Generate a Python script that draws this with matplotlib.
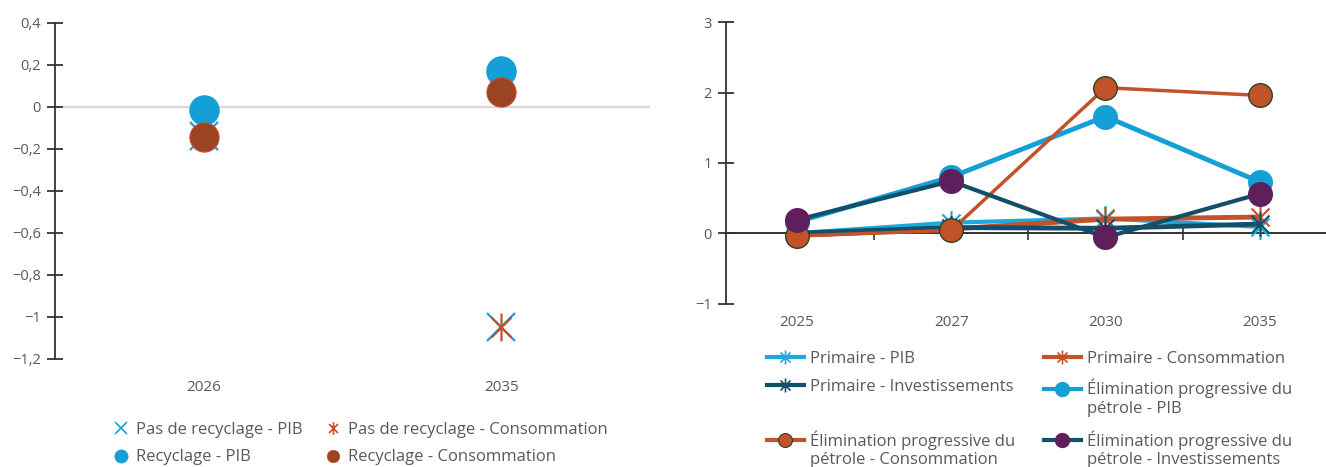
import matplotlib
matplotlib.use('Agg')
import matplotlib.pyplot as plt
from matplotlib.path import Path
from matplotlib.lines import Line2D
from matplotlib.ticker import FuncFormatter, FixedLocator

plt.rcParams['font.family'] = ['Open Sans', 'DejaVu Sans']

# ---------------- data ----------------
left_years = ['2026', '2035']
no_recyc_pib = [-0.14, -1.05]
no_recyc_cons = [-0.14, -1.05]
recyc_pib = [-0.015, 0.17]
recyc_cons = [-0.143, 0.068]
left_yticks = [0.4, 0.2, 0, -0.2, -0.4, -0.6, -0.8, -1, -1.2]

right_years = ['2025', '2027', '2030', '2035']
prim_pib = [0.0, 0.15, 0.21, 0.09]
prim_cons = [-0.03, 0.06, 0.20, 0.23]
prim_inv = [0.0, 0.08, 0.07, 0.13]
elim_pib = [0.16, 0.80, 1.66, 0.73]
elim_cons = [-0.04, 0.04, 2.07, 1.96]
elim_inv = [0.19, 0.74, -0.06, 0.56]
right_yticks = [3, 2, 1, 0, -1]

left_labels = ['Pas de recyclage - PIB', 'Pas de recyclage - Consommation',
               'Recyclage - PIB', 'Recyclage - Consommation']
right_labels = ['Primaire - PIB', 'Primaire - Consommation', 'Primaire - Investissements',
                'Élimination progressive du\npétrole - PIB',
                'Élimination progressive du\npétrole - Consommation',
                'Élimination progressive du\npétrole - Investissements']

# ---------------- styles ----------------
BLUE = '#149fd7'
LBLUE = '#1ea9de'
ORANGE = '#c1522a'
BROWN = '#9a4423'
TEAL = '#124f69'
PURPLE = '#5e1f5c'
DKGREEN = '#2f4420'
TXT = '#595959'
AX = '#333333'
FS = 12

# asterisk marker: vertical bar + two 45 degree diagonals
ast = Path([(0, -1), (0, 1), (-0.72, -0.72), (0.72, 0.72), (-0.72, 0.72), (0.72, -0.72)],
           [Path.MOVETO, Path.LINETO, Path.MOVETO, Path.LINETO, Path.MOVETO, Path.LINETO])


def fmt(v, pos=None):
    s = ('%.1f' % v).rstrip('0').rstrip('.')
    if s in ('-0', ''):
        s = '0'
    return s.replace('.', ',').replace('-', '\u2212')


W, H = 1326, 467
fig = plt.figure(figsize=(W / 100, H / 100), dpi=100)


def rect(x0, y0, x1, y1):
    return [x0 / W, 1 - y1 / H, (x1 - x0) / W, (y1 - y0) / H]


def style_axes(ax, xpad):
    for s in ['top', 'right', 'bottom']:
        ax.spines[s].set_visible(False)
    ax.spines['left'].set_color(AX)
    ax.spines['left'].set_linewidth(1.3)
    ax.yaxis.set_major_formatter(FuncFormatter(fmt))
    ax.tick_params(axis='y', direction='inout', length=12, width=1.3, color=AX,
                   labelcolor=TXT, labelsize=10.5, pad=4)
    ax.tick_params(axis='x', length=0, labelcolor=TXT, labelsize=11, pad=xpad)


# ---------------- left chart ----------------
ax1 = fig.add_axes(rect(55, 22.7, 650, 359))
xl = range(len(left_years))
ax1.axhline(0, color='#d9d9d9', lw=1.6, zorder=0)
ax1.plot(xl, no_recyc_pib, ls='none', marker='x', ms=20, mew=1.6, color=BLUE, zorder=2)
ax1.plot(xl, no_recyc_cons, ls='none', marker=ast, ms=20, mew=1.6, color=ORANGE, zorder=2)
ax1.plot(xl, recyc_pib, ls='none', marker='o', ms=21, color=BLUE, mec=BLUE, zorder=3)
ax1.plot(xl, recyc_cons, ls='none', marker='o', ms=21, color=BROWN, mec=ORANGE, mew=0.8, zorder=4)
ax1.set_xlim(-0.5, 1.5)
ax1.set_ylim(-1.2, 0.4)
ax1.set_xticks(list(xl))
ax1.set_xticklabels(left_years)
ax1.set_yticks(left_yticks)
style_axes(ax1, 15)

lh = [Line2D([], [], ls='none', marker='x', ms=8, mew=1.2, color=BLUE),
      Line2D([], [], ls='none', marker='o', ms=9, color=BLUE),
      Line2D([], [], ls='none', marker=ast, ms=9, mew=1.2, color=ORANGE),
      Line2D([], [], ls='none', marker='o', ms=9, color=BROWN, mec=ORANGE, mew=0.5)]
ll = [left_labels[0], left_labels[2], left_labels[1], left_labels[3]]
fig.legend(lh, ll, ncol=2, loc='upper left', bbox_to_anchor=(112.7 / W, 1 - 422 / H),
           frameon=False, borderpad=0, borderaxespad=0, handlelength=1.0,
           handletextpad=0.4, columnspacing=1.3, labelspacing=0.68,
           prop={'size': FS}, labelcolor=TXT)

# ---------------- right chart ----------------
ax2 = fig.add_axes(rect(726, 22.3, 1326, 303.5))
xr = range(len(right_years))
ax2.axhline(0, color='#222222', lw=1.3, zorder=0)
ax2.plot(xr, prim_pib, color=LBLUE, lw=3, marker=ast, ms=18, mew=1.5, zorder=2)
ax2.plot(xr, prim_cons, color=ORANGE, lw=3.5, marker=ast, ms=18, mew=1.5, zorder=2)
ax2.plot(xr, prim_inv, color=TEAL, lw=3.5, marker=ast, ms=18, mew=1.5, zorder=2)
ax2.plot(xr, elim_pib, color=BLUE, lw=3.5, marker='o', ms=17, mec=BLUE, zorder=3)
ax2.plot(xr, elim_cons, color=ORANGE, lw=2.5, marker='o', ms=17, mfc=ORANGE, mec=DKGREEN, mew=1.0, zorder=3)
ax2.plot(xr, elim_inv, color=TEAL, lw=3, marker='o', ms=17, mfc=PURPLE, mec=PURPLE, zorder=4)
ax2.set_xlim(-0.46, 3.43)
ax2.set_ylim(-1, 3)
ax2.set_xticks(list(xr))
ax2.set_xticklabels(right_years)
ax2.set_yticks(right_yticks)
style_axes(ax2, 8)
sec = ax2.secondary_xaxis(0, transform=ax2.transData)
sec.spines['bottom'].set_visible(False)
sec.xaxis.set_major_locator(FixedLocator([0.5, 1.5, 2.5]))
sec.tick_params(axis='x', direction='inout', length=10, width=1.2, color=AX, labelbottom=False)

blank = Line2D([], [], color='none')
rhandles = [Line2D([], [], color=LBLUE, lw=3, marker=ast, ms=10, mew=1.2),
            Line2D([], [], color=ORANGE, lw=3, marker=ast, ms=10, mew=1.2),
            Line2D([], [], color=TEAL, lw=3, marker=ast, ms=10, mew=1.2),
            Line2D([], [], color=BLUE, lw=3, marker='o', ms=10, mec=BLUE),
            Line2D([], [], color=ORANGE, lw=3, marker='o', ms=10, mfc=ORANGE, mec=DKGREEN, mew=0.8),
            Line2D([], [], color=TEAL, lw=3, marker='o', ms=10, mfc=PURPLE, mec=PURPLE)]
# cell anchors (x of handle start, y of first text line centre) in pixels
cells = [(767, 360), (1044, 360), (767, 388), (1044, 388), (767, 439), (1044, 439)]
for h, lab, (cx, cy) in zip(rhandles, right_labels, cells):
    lines = lab.split('\n')
    hs = [h] + [blank] * (len(lines) - 1)
    fig.legend(hs, lines, loc='upper left', bbox_to_anchor=(cx / W, 1 - (cy - 9) / H),
               frameon=False, borderpad=0, borderaxespad=0, handlelength=2.2,
               handletextpad=0.4, labelspacing=0.15, prop={'size': FS}, labelcolor=TXT)

fig.savefig('out.png', dpi=100)
